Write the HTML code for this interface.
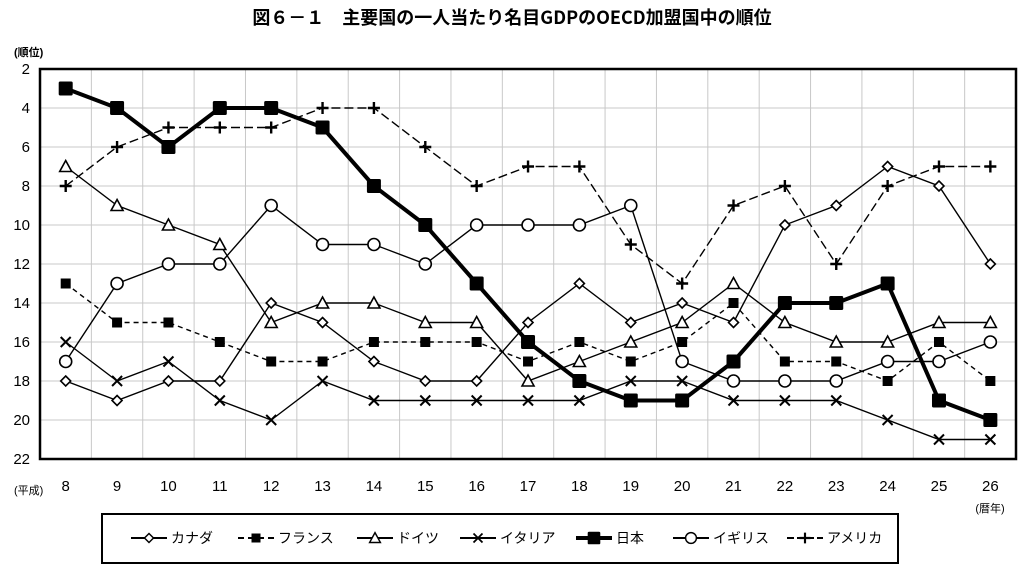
<!DOCTYPE html>
<html><head><meta charset="utf-8"><style>
body{margin:0;background:#fff;width:1024px;height:569px;overflow:hidden}
svg{display:block;font-family:"Liberation Sans","Noto Sans CJK JP",sans-serif}
</style></head><body>
<svg id="s" width="1024" height="569" viewBox="0 0 1024 569">
<text x="512" y="24" text-anchor="middle" font-size="18" font-weight="bold" font-family="'Noto Sans CJK JP',sans-serif">図６－１　主要国の一人当たり名目GDPのOECD加盟国中の順位</text>
<text x="14" y="56" font-size="11" font-weight="bold">(順位)</text>
<g id="grid" stroke="#c8c8c8" stroke-width="1"></g>
<g id="ylab" font-size="15" text-anchor="end"></g>
<g id="xlab" font-size="15" text-anchor="middle"></g>
<text x="14" y="494" font-size="11">(平成)</text>
<text x="990" y="512" font-size="11" text-anchor="middle">(暦年)</text>
<rect x="40" y="69" width="976" height="390" fill="none" stroke="#000" stroke-width="2.5"/>
<g id="series"></g>
<rect x="102" y="514" width="796" height="49" fill="none" stroke="#000" stroke-width="2"/>
<g id="leg" font-size="14"></g>
</svg>
<script>
const NS="http://www.w3.org/2000/svg";
function el(p,t,a){const e=document.createElementNS(NS,t);for(const k in a)e.setAttribute(k,a[k]);p.appendChild(e);return e;}
const X=i=>65.7+i*51.37, Y=v=>69+(v-2)*19.5;
const g=document.getElementById('grid');
for(let v=4;v<=20;v+=2)el(g,'line',{x1:40,x2:1016,y1:Y(v),y2:Y(v)});
for(let k=1;k<19;k++){const x=40+k*51.37;el(g,'line',{x1:x,x2:x,y1:69,y2:459});}
const yl=document.getElementById('ylab');
for(let v=2;v<=22;v+=2){const t=el(yl,'text',{x:30,y:Y(v)+5});t.textContent=v;}
const xl=document.getElementById('xlab');
for(let i=0;i<19;i++){const t=el(xl,'text',{x:X(i),y:491});t.textContent=8+i;}
const D={
can:[18,19,18,18,14,15,17,18,18,15,13,15,14,15,10,9,7,8,12],
fra:[13,15,15,16,17,17,16,16,16,17,16,17,16,14,17,17,18,16,18],
ger:[7,9,10,11,15,14,14,15,15,18,17,16,15,13,15,16,16,15,15],
ita:[16,18,17,19,20,18,19,19,19,19,19,18,18,19,19,19,20,21,21],
jpn:[3,4,6,4,4,5,8,10,13,16,18,19,19,17,14,14,13,19,20],
uk:[17,13,12,12,9,11,11,12,10,10,10,9,17,18,18,18,17,17,16],
usa:[8,6,5,5,5,4,4,6,8,7,7,11,13,9,8,12,8,7,7]};
const S={can:{w:1.4,d:'',m:'dia'},fra:{w:1.4,d:'5,4',m:'sq'},ger:{w:1.4,d:'',m:'tri'},ita:{w:1.4,d:'',m:'x'},jpn:{w:4,d:'',m:'big'},uk:{w:1.4,d:'',m:'cir'},usa:{w:1.4,d:'9,4',m:'plus'}};
function mark(p,m,x,y){
 if(m=='dia')el(p,'polygon',{points:`${x},${y-5} ${x+5},${y} ${x},${y+5} ${x-5},${y}`,fill:'#fff',stroke:'#000','stroke-width':1.6});
 if(m=='sq')el(p,'rect',{x:x-5,y:y-5,width:10,height:10,fill:'#000'});
 if(m=='big')el(p,'rect',{x:x-7,y:y-7,width:14,height:14,fill:'#000',rx:1.5});
 if(m=='tri')el(p,'polygon',{points:`${x},${y-6} ${x+6},${y+5} ${x-6},${y+5}`,fill:'#fff',stroke:'#000','stroke-width':1.6});
 if(m=='cir')el(p,'circle',{cx:x,cy:y,r:6,fill:'#fff',stroke:'#000','stroke-width':1.6});
 if(m=='x')el(p,'path',{d:`M${x-5},${y-5}L${x+5},${y+5}M${x+5},${y-5}L${x-5},${y+5}`,stroke:'#000','stroke-width':2});
 if(m=='plus')el(p,'path',{d:`M${x-6},${y}L${x+6},${y}M${x},${y-6}L${x},${y+6}`,stroke:'#000','stroke-width':2.4});
}
const sg=document.getElementById('series');
for(const k of ['can','fra','ger','ita','uk','usa','jpn']){
 const s=S[k];el(sg,'polyline',{points:D[k].map((v,i)=>X(i)+','+Y(v)).join(' '),fill:'none',stroke:'#000','stroke-width':s.w,'stroke-dasharray':s.d});
 D[k].forEach((v,i)=>mark(sg,s.m,X(i),Y(v)));
}
const L=[['can','カナダ',131],['fra','フランス',238],['ger','ドイツ',357],['ita','イタリア',460],['jpn','日本',576],['uk','イギリス',673],['usa','アメリカ',787]];
const lg=document.getElementById('leg');
for(const [k,n,x] of L){const s=S[k];
 el(lg,'line',{x1:x,x2:x+36,y1:538,y2:538,stroke:'#000','stroke-width':s.w==4?4:2,'stroke-dasharray':k=='fra'?'6,4':(k=='usa'?'7,3':'')});
 const g2=el(lg,'g',{transform:`translate(${x+18},538) scale(0.9) translate(${-(x+18)},-538)`});mark(g2,s.m,x+18,538);
 const t=el(lg,'text',{x:x+40,y:543});t.textContent=n;}
</script>
</body></html>
